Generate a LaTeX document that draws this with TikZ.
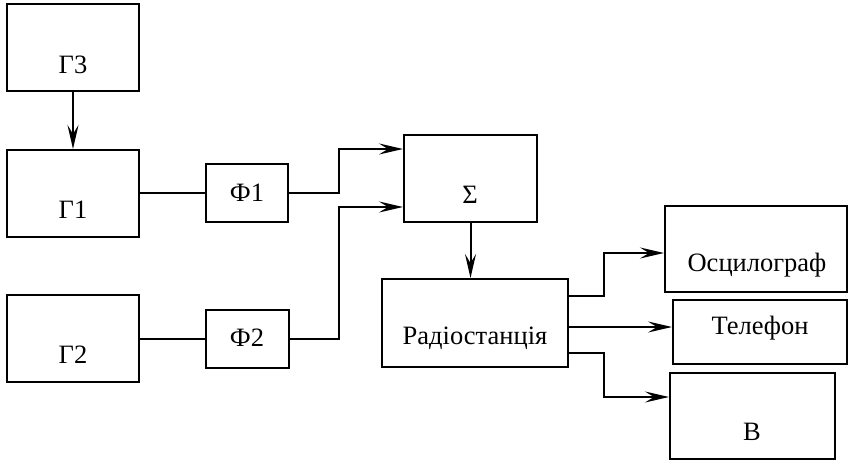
\documentclass[tikz,border=0pt]{standalone}
\usepackage{fontspec}
\setmainfont{Liberation Serif}
\usetikzlibrary{arrows.meta}
\begin{document}
\begin{tikzpicture}[x=1pt,y=-1pt,
  box/.style={draw,line width=2pt,rectangle,inner sep=0pt},
  txt/.style={font=\fontsize{26.5}{30}\selectfont,inner sep=0pt},
  conn/.style={line width=2pt},
  arr/.style={conn,-{Stealth[length=24pt,width=11pt,inset=9pt]}}]
\useasboundingbox (0,0) rectangle (848,460);
% boxes
\node[box,minimum width=132pt,minimum height=87pt] (g3) at (73,47.5) {};
\node[box,minimum width=132pt,minimum height=87pt] (g1) at (73,193.5) {};
\node[box,minimum width=132pt,minimum height=87pt] (g2) at (73,338.5) {};
\node[box,minimum width=82pt,minimum height=58pt] (f1) at (247,193) {};
\node[box,minimum width=83pt,minimum height=58pt] (f2) at (247.5,339) {};
\node[box,minimum width=133pt,minimum height=87pt] (sig) at (470.5,178.5) {};
\node[box,minimum width=186pt,minimum height=88pt] (rad) at (475,323) {};
\node[box,minimum width=182pt,minimum height=86pt] (osc) at (756,249) {};
\node[box,minimum width=174pt,minimum height=64pt] (tel) at (760,332) {};
\node[box,minimum width=165pt,minimum height=86pt] (bb) at (752.5,416) {};
% texts
\node[txt] (tg3) at (73,65) {Г3};
\node[txt] (tg1) at (73,210) {Г1};
\node[txt] (tg2) at (73,355) {Г2};
\node[txt] (tf1) at (247,193) {Ф1};
\node[txt] (tf2) at (247,338) {Ф2};
\node[txt] (tsig) at (470,195) {Σ};
\node[txt] (trad) at (475,338) {Радіостанція};
\node[txt] (tosc) at (757,265) {Осцилограф};
\node[txt] (ttel) at (760,328) {Телефон};
\node[txt] (tbb) at (752,432) {В};
% connectors
\draw[arr] (g3.south) -- (g1.north);
\draw[conn] (g1.east |- f1.west) -- (f1.west);
\draw[conn] (g2.east |- f2.west) -- (f2.west);
\draw[arr] (f1.east) -- ++(50,0) |- ([yshift=29.5pt]sig.west);
\draw[arr] (f2.east) -- ++(49,0) |- ([yshift=-28.5pt]sig.west);
\draw[arr] (sig.south) -- (sig.south |- rad.north);
\draw[arr] ([yshift=27pt]rad.east) -- ++(35,0) |- ([yshift=-4pt]osc.west);
\draw[arr] ([yshift=-4pt]rad.east) -- ([yshift=-4pt]rad.east -| tel.west);
\draw[arr] ([yshift=-30pt]rad.east) -- ++(35,0) |- ([yshift=19pt]bb.west);
\end{tikzpicture}
\end{document}
